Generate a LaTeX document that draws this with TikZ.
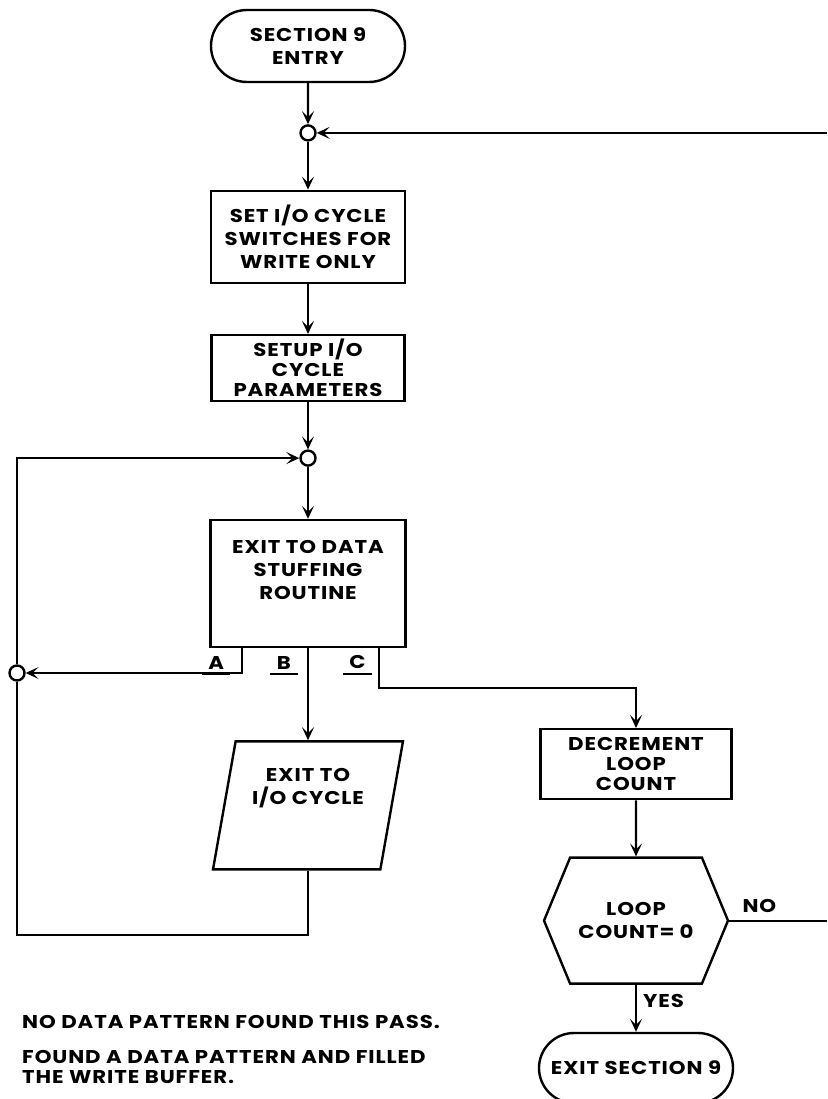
\documentclass[tikz,border=0pt]{standalone}
\usepackage{fontspec}
\setmainfont{Poppins}[FakeStretch=1.15, LetterSpace=5]
\usetikzlibrary{shapes.geometric, shapes.misc, shapes.symbols, arrows.meta, positioning, calc}

\begin{document}
\begin{tikzpicture}[
    x=1pt, y=1pt,
    >={Stealth[length=13pt, width=12pt, inset=6pt]},
    font=\fontsize{18.5}{23}\selectfont\bfseries,
    % Block styles
    terminal/.style={
        rounded rectangle, draw, line width=2.4pt,
        align=center, inner sep=1pt,
        minimum width=196pt, minimum height=72pt
    },
    procbox/.style={
        rectangle, draw, line width=2.4pt,
        align=center, inner sep=1pt
    },
    iobox/.style={
        trapezium, trapezium left angle=77, trapezium right angle=103,
        trapezium stretches=true, draw, line width=2.4pt,
        align=center, inner sep=1pt,
        minimum width=190pt, minimum height=128pt
    },
    decision/.style={
        signal, signal to=west and east, signal pointer angle=135,
        draw, line width=2.4pt, align=center, inner sep=1pt,
        minimum width=184pt, minimum height=126pt
    },
    junction/.style={
        circle, draw, line width=2.4pt, fill=white,
        minimum size=15pt, inner sep=0pt
    },
    branchlbl/.style={
        minimum width=28pt, inner xsep=0pt, inner ysep=5pt
    },
    note/.style={
        anchor=west, align=left, inner sep=0pt
    },
    tight/.style={
        font=\fontsize{18.5}{20}\selectfont\bfseries
    },
    line/.style={
        line width=2.2pt
    },
    arrow/.style={
        ->, line width=2.2pt
    },
]
\useasboundingbox (0,0) rectangle (827,-1099);

% ===== MAIN COLUMN =====
\node[terminal] (entry) at (308,-46) {SECTION 9\\ENTRY};
\node[junction, below=41pt of entry] (c1) {};
\node[procbox, below=48pt of c1, minimum width=194pt, minimum height=92pt] (setsw) {SET I/O CYCLE\\SWITCHES FOR\\WRITE ONLY};
\node[procbox, tight, below=50pt of setsw, minimum width=193pt, minimum height=66pt] (setup) {SETUP I/O\\CYCLE\\PARAMETERS};
\node[junction, below=47pt of setup] (c2) {};
\node[procbox, below=52pt of c2, minimum width=195pt, minimum height=127pt] (stuff) {EXIT TO DATA\\STUFFING\\ROUTINE\\[4pt]};
\node[iobox, below=92pt of stuff] (io) {EXIT TO\\I/O CYCLE\\[16pt]};

% ===== LOOP COUNT BRANCH =====
\node[procbox, tight, anchor=north, minimum width=191pt, minimum height=70pt] (dec) at (636,-728) {DECREMENT\\LOOP\\COUNT};
\node[decision, below=56pt of dec] (hex) {LOOP\\COUNT= 0};
\node[terminal, below=47pt of hex, minimum height=70pt] (exit) {EXIT SECTION 9};

% ===== JUNCTIONS AND EXIT POINTS =====
\node[junction] (c3) at (17,-673) {};
\coordinate (edge) at (827,0);
\coordinate (loopin) at (c1 -| edge);
\coordinate (loopout) at (hex.east -| edge);
\coordinate (aout) at ($(stuff.south west)+(33,0)$);
\coordinate (cout) at ($(stuff.south east)+(-28,0)$);

% Branch labels
\node[branchlbl, anchor=south east] (la) at ($(aout)+(-12,-26)$) {A};
\node[branchlbl, anchor=south east] (lb) at ($(stuff.south)+(-10,-26)$) {B};
\node[branchlbl, anchor=south east] (lc) at ($(cout)+(-7,-26)$) {C};
\foreach \n in {la,lb,lc}
    \draw[line] (\n.south west) -- (\n.south east);

% ===== ARROWS =====
\draw[arrow] (entry) -- (c1);
\draw[arrow] (loopin) -- (c1);
\draw[arrow] (c1) -- (setsw);
\draw[arrow] (setsw) -- (setup);
\draw[arrow] (setup) -- (c2);
\draw[arrow] (c2) -- (stuff);

% Exits from data stuffing
\draw[arrow] (aout) |- (c3);
\draw[arrow] (stuff.south) -- (io.north -| stuff.south);
\draw[arrow] (cout) -- ++(0,-40) -| (dec.north);

% Back to top of data stuffing
\draw[line] (io.south) -- ++(0,-64) -| (c3);
\draw[arrow] (c3) |- (c2);

% Loop count
\draw[arrow] (dec) -- (hex);
\draw[line] (hex.east) -- (loopout);
\draw[arrow] (hex.south) -- (exit.north);
\node[anchor=south west, inner sep=0pt] (nolbl) at ($(hex.east)+(13,8)$) {NO};
\node[anchor=north west, inner sep=0pt] (yeslbl) at ($(hex.south)+(7,-9)$) {YES};

% ===== NOTES =====
\node[note] (note1) at (22,-1022) {NO DATA PATTERN FOUND THIS PASS.};
\node[note, font=\fontsize{18.5}{20}\selectfont\bfseries] (note2) at (22,-1067) {FOUND A DATA PATTERN AND FILLED\\THE WRITE BUFFER.};

\end{tikzpicture}
\end{document}
